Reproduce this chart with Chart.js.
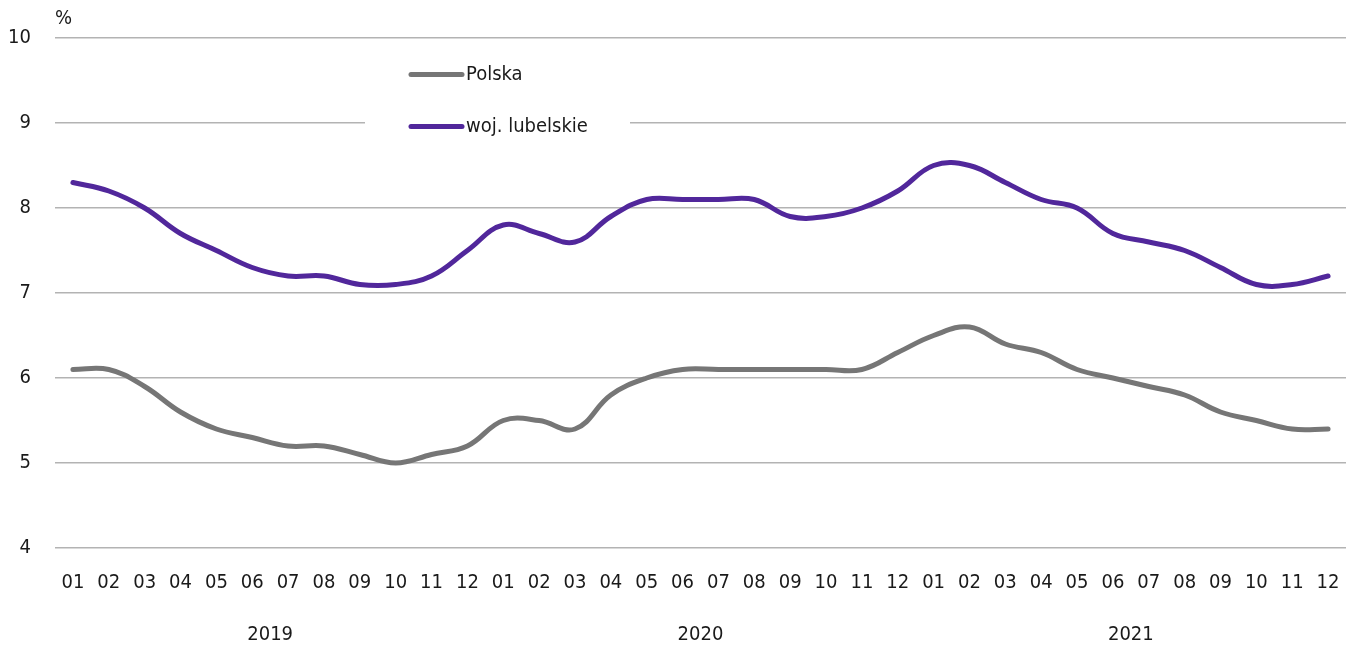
<!DOCTYPE html>
<html>
<head>
<meta charset="utf-8">
<script src="https://cdn.jsdelivr.net/npm/chart.js@4/dist/chart.umd.min.js"></script>
<style>
  html, body { margin: 0; padding: 0; background: #fff; overflow: hidden; }
  #wrap { width: 1346px; height: 646px; }
</style>
</head>
<body>
<div id="wrap"><canvas id="chart"></canvas></div>
<script>
// months 2019-01 .. 2021-12
const years = ['2019', '2020', '2021'];
const monthLabels = ['01', '02', '03', '04', '05', '06', '07', '08', '09', '10', '11', '12'];
const polska = [
    6.1, 6.1, 5.9, 5.6, 5.4, 5.3, 5.2, 5.2, 5.1, 5.0, 5.1, 5.2,
    5.5, 5.5, 5.4, 5.8, 6.0, 6.1, 6.1, 6.1, 6.1, 6.1, 6.1, 6.3,
    6.5, 6.6, 6.4, 6.3, 6.1, 6.0, 5.9, 5.8, 5.6, 5.5, 5.4, 5.4
];
const lubelskie = [
    8.3, 8.2, 8.0, 7.7, 7.5, 7.3, 7.2, 7.2, 7.1, 7.1, 7.2, 7.5,
    7.8, 7.7, 7.6, 7.9, 8.1, 8.1, 8.1, 8.1, 7.9, 7.9, 8.0, 8.2,
    8.5, 8.5, 8.3, 8.1, 8.0, 7.7, 7.6, 7.5, 7.3, 7.1, 7.1, 7.2
];

const labels = [];
years.forEach(function() { monthLabels.forEach(function(m) { labels.push(m); }); });

const FONT = '"DejaVu Sans Condensed", "Liberation Sans Narrow", sans-serif';
const TEXT = '#1a1a1a';

// legend box drawn inside the plot, over the 9 gridline
const insideLegend = {
    id: 'insideLegend',
    afterDatasetsDraw(chart) {
        const ctx = chart.ctx;
        const x = 365;
        const y0 = chart.scales.y.getPixelForValue(9.57);
        ctx.save();
        ctx.fillStyle = '#fff';
        ctx.fillRect(x, y0 - 22, 265, 92);
        ctx.font = '20px ' + FONT;
        ctx.textBaseline = 'middle';
        chart.data.datasets.forEach(function(ds, i) {
            const y = y0 + i * 52;
            ctx.strokeStyle = ds.borderColor;
            ctx.lineWidth = 5;
            ctx.lineCap = 'round';
            ctx.beginPath();
            ctx.moveTo(x + 46, y);
            ctx.lineTo(x + 97, y);
            ctx.stroke();
            ctx.fillStyle = TEXT;
            ctx.fillText(ds.label, x + 101, y);
        });
        ctx.restore();
    }
};

// year labels and the % unit
const extraText = {
    id: 'extraText',
    afterDraw(chart) {
        const ctx = chart.ctx;
        const xs = chart.scales.x;
        const area = chart.chartArea;
        ctx.save();
        ctx.font = '20px ' + FONT;
        ctx.fillStyle = TEXT;
        ctx.textAlign = 'center';
        ctx.textBaseline = 'middle';
        years.forEach(function(yr, i) {
            const cx = (xs.getPixelForValue(i * 12 + 5) + xs.getPixelForValue(i * 12 + 6)) / 2;
            ctx.fillText(yr, cx, area.bottom + 87);
        });
        ctx.textAlign = 'left';
        ctx.fillText('%', area.left, area.top - 19);
        ctx.restore();
    }
};

new Chart(document.getElementById('chart').getContext('2d'), {
    type: 'line',
    data: {
        labels: labels,
        datasets: [
            {
                label: 'Polska',
                data: polska,
                borderColor: '#767676',
                borderWidth: 5,
                pointRadius: 0,
                tension: 0.4,
                borderCapStyle: 'round'
            },
            {
                label: 'woj. lubelskie',
                data: lubelskie,
                borderColor: '#51279b',
                borderWidth: 5,
                pointRadius: 0,
                tension: 0.4,
                borderCapStyle: 'round'
            }
        ]
    },
    options: {
        responsive: true,
        maintainAspectRatio: false,
        animation: false,
        layout: { padding: { top: 38, right: 0, left: 0, bottom: 0 } },
        plugins: {
            legend: { display: false },
            tooltip: { enabled: false }
        },
        scales: {
            x: {
                offset: true,
                grid: { display: false, drawTicks: true, tickLength: 23 },
                border: { display: false },
                ticks: {
                    color: TEXT,
                    font: { family: FONT, size: 20 },
                    maxRotation: 0,
                    autoSkip: false,
                    padding: 0
                },
                afterFit(scale) { scale.height = 98; }
            },
            y: {
                min: 4,
                max: 10,
                grid: { color: '#b3b3b3', lineWidth: 1.5, drawTicks: false },
                border: { display: false },
                ticks: {
                    stepSize: 1,
                    color: TEXT,
                    font: { family: FONT, size: 20 },
                    padding: 24
                },
                afterFit(scale) { scale.width = 55; }
            }
        }
    },
    plugins: [insideLegend, extraText]
});
</script>
</body>
</html>
